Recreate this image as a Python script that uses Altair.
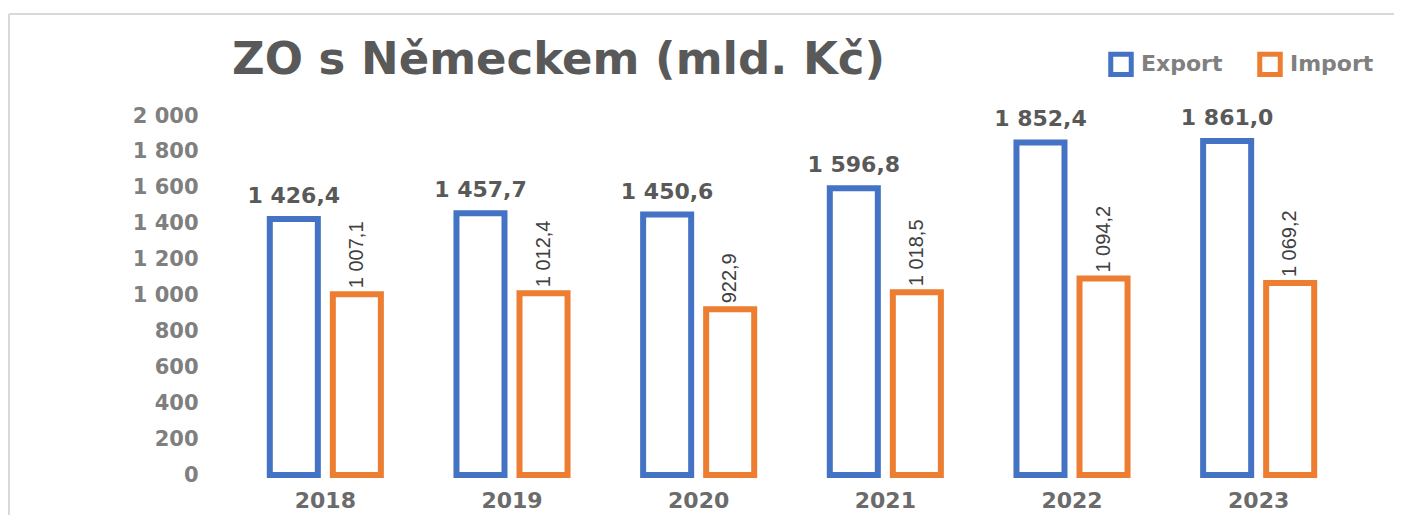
import altair as alt
import pandas as pd

years = ["2018", "2019", "2020", "2021", "2022", "2023"]
export_vals = [1426.4, 1457.7, 1450.6, 1596.8, 1852.4, 1861.0]
import_vals = [1007.1, 1012.4, 922.9, 1018.5, 1094.2, 1069.2]
series = ["Export", "Import"]
colors = ["#4472C4", "#ED7D31"]
y_ticks = list(range(0, 2001, 200))

rows = []
for y, e, i in zip(years, export_vals, import_vals):
    rows.append({"year": y, "series": "Export", "value": e})
    rows.append({"year": y, "series": "Import", "value": i})
df = pd.DataFrame(rows)

FONT = "DejaVu Sans"

base = alt.Chart(df).transform_calculate(
    label="replace(replace(format(datum.value, ',.1f'), ',', ' '), '.', ',')"
)

x_enc = alt.X(
    "year:N",
    sort=years,
    title=None,
    scale=alt.Scale(paddingInner=0.405, paddingOuter=0.2025),
    axis=alt.Axis(
        domain=False, ticks=False, labelAngle=0, labelPadding=15,
        labelFont=FONT, labelFontWeight="bold", labelFontSize=22, labelColor="#6b6b6b",
    ),
)
xoff_enc = alt.XOffset("series:N", sort=series,
                       scale=alt.Scale(paddingInner=0.238, paddingOuter=0))
y_enc = alt.Y(
    "value:Q",
    title=None,
    scale=alt.Scale(domain=[0, 2000], nice=False),
    axis=alt.Axis(
        values=y_ticks, domain=False, ticks=False, grid=False, labelPadding=34,
        labelExpr="replace(format(datum.value, ','), ',', ' ')",
        labelFont=FONT, labelFontWeight="bold", labelFontSize=21, labelColor="#7f7f7f",
    ),
)

bars = base.mark_bar(fill="white", strokeWidth=6).encode(
    x=x_enc,
    xOffset=xoff_enc,
    y=y_enc,
    stroke=alt.Stroke(
        "series:N",
        sort=series,
        scale=alt.Scale(domain=series, range=colors),
        legend=alt.Legend(
            title=None, orient="none", direction="horizontal",
            legendX=876, legendY=-65,
            symbolType="square", symbolSize=420, symbolStrokeWidth=5,
            symbolFillColor="white", labelOffset=7, columnPadding=26,
            labelFont=FONT, labelFontSize=22, labelFontWeight="bold",
            labelColor="#808080",
        ),
    ),
)

export_text = base.transform_filter(alt.datum.series == "Export").mark_text(
    baseline="bottom", dy=-11, font=FONT, fontWeight="bold", fontSize=22, color="#595959"
).encode(x=x_enc, xOffset=xoff_enc, y=y_enc, text="label:N")

import_text = base.transform_filter(alt.datum.series == "Import").mark_text(
    angle=270, align="left", baseline="middle", dx=6,
    font="Liberation Sans", fontSize=20, color="#404040"
).encode(x=x_enc, xOffset=xoff_enc, y=y_enc, text="label:N")

frame_data = alt.Data(values=[{}])
frame_top = alt.Chart(frame_data).mark_rule(color="#d9d9d9", strokeWidth=2).encode(
    x=alt.value(-223), x2=alt.value(1162), y=alt.value(-102)
)
frame_left = alt.Chart(frame_data).mark_rule(color="#d9d9d9", strokeWidth=2).encode(
    x=alt.value(-223), y=alt.value(-102), y2=alt.value(440)
)

chart = alt.layer(frame_top, frame_left, bars, export_text, import_text).properties(
    width=1120,
    height=359,
    autosize=alt.AutoSizeParams(type="none"),
    padding={"left": 224, "top": 108, "right": 42, "bottom": 40},
    title=alt.TitleParams(
        "ZO s Německem (mld. Kč)", anchor="start", frame="group",
        font=FONT, fontSize=45, fontWeight="bold", color="#595959",
        offset=22, dy=92,
    ),
).configure_view(stroke=None)

chart.save("out.html", embed_options={"renderer": "svg", "actions": False})
